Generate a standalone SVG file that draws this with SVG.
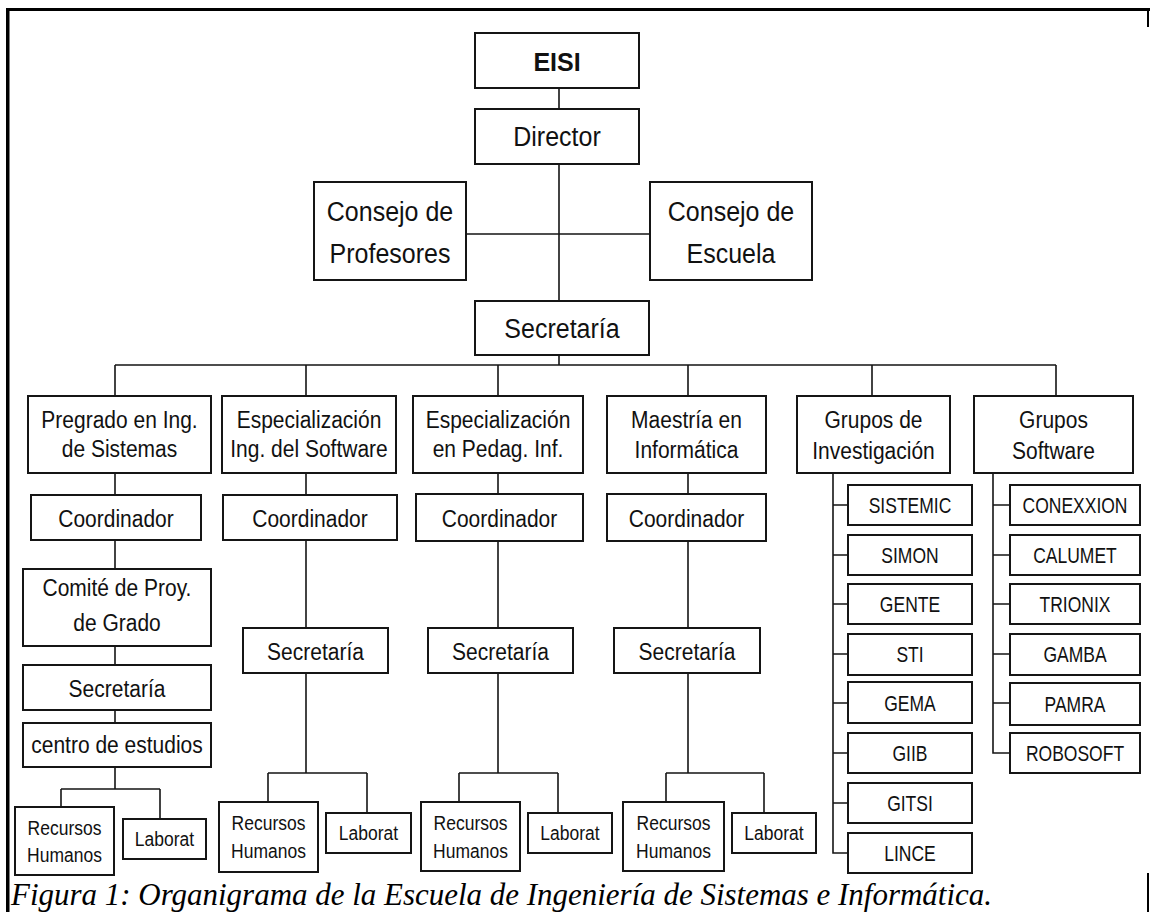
<svg xmlns="http://www.w3.org/2000/svg" width="1150" height="912" viewBox="0 0 1150 912">
<style>
.b{fill:#fff;stroke:#151515;stroke-width:2}
.c{fill:none;stroke:#151515;stroke-width:1.6}
.t{font-family:"Liberation Sans",Arial,sans-serif;fill:#111;text-anchor:middle}
.f25{font-size:25px}.f21{font-size:21px}.f20{font-size:20px}.f17{font-size:17.5px}
.eb{font-weight:bold}
.cap{font-family:"Liberation Serif","Times New Roman",serif;font-style:italic;font-size:31px;fill:#000}
</style>
<rect x="0" y="0" width="1150" height="912" fill="#fff"/>
<g id="frame" fill="#000">
<rect x="6" y="8" width="1144" height="3"/>
<rect x="6" y="8" width="3.5" height="904"/>
<rect x="1147" y="8" width="2" height="19"/>
<rect x="1147" y="873" width="2" height="39"/>
</g>
<g id="connectors" class="c">
<path class="c" d="M559 88V109M559 164V301M466 234H650M559 355V365"/>
<path class="c" d="M115 365H1056M115 365V396M306 365V396M498 365V396M688 365V396M872 365V396M1056 365V396"/>
<path class="c" d="M115 473V495M115 540V569M115 646V665M115 710V723M115 767V789M61 789H160M61 789V807M160 789V819"/>
<path class="c" d="M306 473V495M306 540V628M306 673V773M268 773H367M268 773V802M367 773V813"/>
<path class="c" d="M498 473V494M498 541V628M498 673V773M459 773H558M459 773V802M558 773V813"/>
<path class="c" d="M688 473V494M688 541V628M688 673V773M666 773H764M666 773V802M764 773V813"/>
<path class="c" d="M833 473V853H848M833 505H848M833 555H848M833 604H848M833 654H848M833 703H848M833 753H848M833 803H848"/>
<path class="c" d="M993 473V753H1010M993 505H1010M993 555H1010M993 604H1010M993 654H1010M993 703H1010"/>
</g>
<g id="n-eisi"><rect class="b" x="475" y="33" width="164" height="55"/><text class="t f25 eb" transform="translate(557,71) scale(1,1.05)">EISI</text></g>
<g id="n-director"><rect class="b" x="475" y="109" width="164" height="55"/><text class="t f25" transform="translate(557,146) scale(1,1.12)">Director</text></g>
<g id="n-cprof"><rect class="b" x="314" y="182" width="152" height="98"/><text class="t f25" transform="translate(390,221) scale(1,1.12)">Consejo de</text><text class="t f25" transform="translate(390,263) scale(1,1.12)">Profesores</text></g>
<g id="n-cesc"><rect class="b" x="650" y="182" width="162" height="98"/><text class="t f25" transform="translate(731,221) scale(1,1.12)">Consejo de</text><text class="t f25" transform="translate(731,263) scale(1,1.12)">Escuela</text></g>
<g id="n-sec"><rect class="b" x="475" y="301" width="174" height="54"/><text class="t f25" transform="translate(562,338) scale(1,1.12)">Secretaría</text></g>

<g id="n-pregrado"><rect class="b" x="28" y="396" width="183" height="77"/><text class="t f21" transform="translate(119.5,428) scale(1,1.12)">Pregrado en Ing.</text><text class="t f21" transform="translate(119.5,457) scale(1,1.12)">de Sistemas</text></g>
<g id="n-coord1"><rect class="b" x="31" y="495" width="170" height="45"/><text class="t f21" transform="translate(116,527) scale(1,1.12)">Coordinador</text></g>
<g id="n-comite"><rect class="b" x="23" y="569" width="188" height="77"/><text class="t f21" transform="translate(117,596) scale(1,1.12)">Comité de Proy.</text><text class="t f21" transform="translate(117,631) scale(1,1.12)">de Grado</text></g>
<g id="n-sec1"><rect class="b" x="23" y="665" width="188" height="45"/><text class="t f21" transform="translate(117,697) scale(1,1.12)">Secretaría</text></g>
<g id="n-centro"><rect class="b" x="23" y="723" width="188" height="44"/><text class="t f21" transform="translate(117,753) scale(1,1.12)">centro de estudios</text></g>
<g id="n-rh1"><rect class="b" x="15" y="807" width="99" height="68"/><text class="t f17" transform="translate(64.5,835) scale(1,1.15)">Recursos</text><text class="t f17" transform="translate(64.5,862) scale(1,1.15)">Humanos</text></g>
<g id="n-lab1"><rect class="b" x="123" y="819" width="83" height="40"/><text class="t f17" transform="translate(164.5,846) scale(1,1.15)">Laborat</text></g>

<g id="n-espsw"><rect class="b" x="222" y="396" width="174" height="77"/><text class="t f21" transform="translate(309,428) scale(1,1.12)">Especialización</text><text class="t f21" transform="translate(309,457) scale(1,1.12)">Ing. del Software</text></g>
<g id="n-coord2"><rect class="b" x="223" y="495" width="174" height="45"/><text class="t f21" transform="translate(310,527) scale(1,1.12)">Coordinador</text></g>
<g id="n-sec2"><rect class="b" x="243" y="628" width="145" height="45"/><text class="t f21" transform="translate(315.5,660) scale(1,1.12)">Secretaría</text></g>
<g id="n-rh2"><rect class="b" x="219" y="802" width="99" height="70"/><text class="t f17" transform="translate(268.5,830) scale(1,1.15)">Recursos</text><text class="t f17" transform="translate(268.5,858) scale(1,1.15)">Humanos</text></g>
<g id="n-lab2"><rect class="b" x="326" y="813" width="85" height="40"/><text class="t f17" transform="translate(368.5,840) scale(1,1.15)">Laborat</text></g>

<g id="n-esppe"><rect class="b" x="413" y="396" width="170" height="77"/><text class="t f21" transform="translate(498,428) scale(1,1.12)">Especialización</text><text class="t f21" transform="translate(498,457) scale(1,1.12)">en Pedag. Inf.</text></g>
<g id="n-coord3"><rect class="b" x="416" y="494" width="167" height="47"/><text class="t f21" transform="translate(499.5,527) scale(1,1.12)">Coordinador</text></g>
<g id="n-sec3"><rect class="b" x="428" y="628" width="145" height="45"/><text class="t f21" transform="translate(500.5,660) scale(1,1.12)">Secretaría</text></g>
<g id="n-rh3"><rect class="b" x="421" y="802" width="99" height="69"/><text class="t f17" transform="translate(470.5,830) scale(1,1.15)">Recursos</text><text class="t f17" transform="translate(470.5,858) scale(1,1.15)">Humanos</text></g>
<g id="n-lab3"><rect class="b" x="528" y="813" width="84" height="40"/><text class="t f17" transform="translate(570,840) scale(1,1.15)">Laborat</text></g>

<g id="n-maestria"><rect class="b" x="607" y="396" width="159" height="77"/><text class="t f21" transform="translate(686.5,428) scale(1,1.12)">Maestría en</text><text class="t f21" transform="translate(686.5,458) scale(1,1.12)">Informática</text></g>
<g id="n-coord4"><rect class="b" x="607" y="494" width="159" height="47"/><text class="t f21" transform="translate(686.5,527) scale(1,1.12)">Coordinador</text></g>
<g id="n-sec4"><rect class="b" x="614" y="628" width="146" height="45"/><text class="t f21" transform="translate(687,660) scale(1,1.12)">Secretaría</text></g>
<g id="n-rh4"><rect class="b" x="623" y="802" width="101" height="69"/><text class="t f17" transform="translate(673.5,830) scale(1,1.15)">Recursos</text><text class="t f17" transform="translate(673.5,858) scale(1,1.15)">Humanos</text></g>
<g id="n-lab4"><rect class="b" x="732" y="813" width="84" height="40"/><text class="t f17" transform="translate(774,840) scale(1,1.15)">Laborat</text></g>

<g id="n-ginv"><rect class="b" x="797" y="396" width="153" height="77"/><text class="t f21" transform="translate(873.5,428) scale(1,1.12)">Grupos de</text><text class="t f21" transform="translate(873.5,459) scale(1,1.12)">Investigación</text></g>
<g id="n-sistemic"><rect class="b" x="848" y="485" width="124" height="40"/><text class="t f17" transform="translate(910,512.5) scale(1,1.3)">SISTEMIC</text></g>
<g id="n-simon"><rect class="b" x="848" y="535" width="124" height="40"/><text class="t f17" transform="translate(910,562.5) scale(1,1.3)">SIMON</text></g>
<g id="n-gente"><rect class="b" x="848" y="584" width="124" height="40"/><text class="t f17" transform="translate(910,611.5) scale(1,1.3)">GENTE</text></g>
<g id="n-sti"><rect class="b" x="848" y="634" width="124" height="41"/><text class="t f17" transform="translate(910,661.5) scale(1,1.3)">STI</text></g>
<g id="n-gema"><rect class="b" x="848" y="682" width="124" height="41"/><text class="t f17" transform="translate(910,710.5) scale(1,1.3)">GEMA</text></g>
<g id="n-giib"><rect class="b" x="848" y="733" width="124" height="40"/><text class="t f17" transform="translate(910,760.5) scale(1,1.3)">GIIB</text></g>
<g id="n-gitsi"><rect class="b" x="848" y="783" width="124" height="40"/><text class="t f17" transform="translate(910,810.5) scale(1,1.3)">GITSI</text></g>
<g id="n-lince"><rect class="b" x="848" y="833" width="124" height="40"/><text class="t f17" transform="translate(910,860.5) scale(1,1.3)">LINCE</text></g>

<g id="n-gsw"><rect class="b" x="974" y="396" width="159" height="77"/><text class="t f21" transform="translate(1053.5,428) scale(1,1.12)">Grupos</text><text class="t f21" transform="translate(1053.5,459) scale(1,1.12)">Software</text></g>
<g id="n-conexxion"><rect class="b" x="1010" y="485" width="130" height="40"/><text class="t f17" transform="translate(1075,512.5) scale(1,1.3)">CONEXXION</text></g>
<g id="n-calumet"><rect class="b" x="1010" y="535" width="130" height="40"/><text class="t f17" transform="translate(1075,562.5) scale(1,1.3)">CALUMET</text></g>
<g id="n-trionix"><rect class="b" x="1010" y="584" width="130" height="40"/><text class="t f17" transform="translate(1075,611.5) scale(1,1.3)">TRIONIX</text></g>
<g id="n-gamba"><rect class="b" x="1010" y="634" width="130" height="41"/><text class="t f17" transform="translate(1075,661.5) scale(1,1.3)">GAMBA</text></g>
<g id="n-pamra"><rect class="b" x="1010" y="683" width="130" height="42"/><text class="t f17" transform="translate(1075,711.5) scale(1,1.3)">PAMRA</text></g>
<g id="n-robosoft"><rect class="b" x="1010" y="733" width="130" height="40"/><text class="t f17" transform="translate(1075,760.5) scale(1,1.3)">ROBOSOFT</text></g>

<text id="caption" class="cap" x="11" y="905" textLength="981" lengthAdjust="spacingAndGlyphs">Figura 1: Organigrama de la Escuela de Ingeniería de Sistemas e Informática.</text>
</svg>
